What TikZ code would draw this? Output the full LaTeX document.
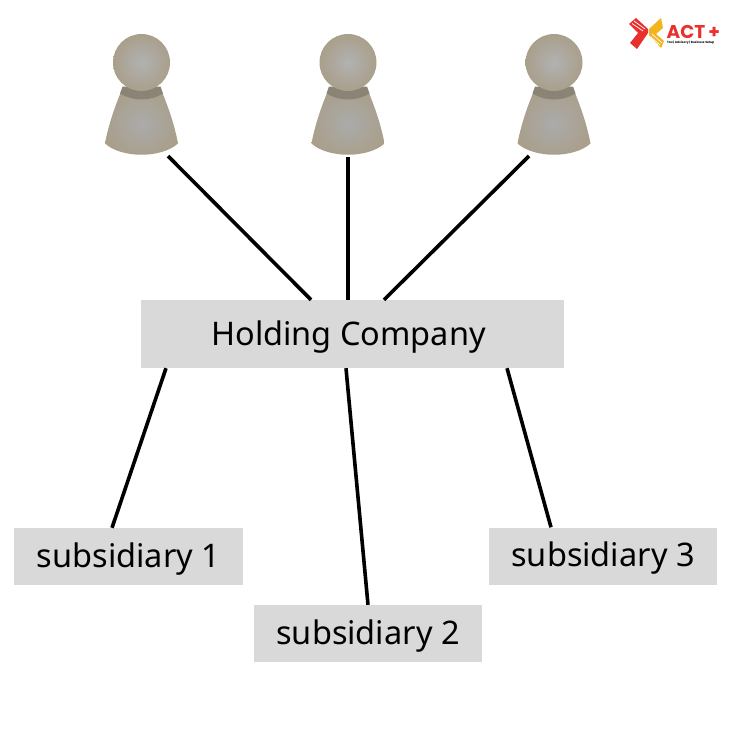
\documentclass[tikz,border=0pt]{standalone}
\usepackage{fontspec}
\setmainfont{Noto Sans}
\newfontfamily\logofont{Poppins}[UprightFont=* Bold]
\definecolor{boxgray}{HTML}{D9D9D9}
\definecolor{pawntan}{HTML}{A99F8B}
\definecolor{pawnmid}{HTML}{ABABAB}
\definecolor{pawncollar}{HTML}{8A8476}
\definecolor{actred}{HTML}{E8312F}
\definecolor{actyellow}{HTML}{F2B51D}
\tikzset{
    holdingbox/.style={fill=boxgray,minimum width=423pt,minimum height=68pt,text height=22pt,text depth=0pt,font=\fontsize{32.5}{36}\selectfont},
    subbox/.style={fill=boxgray,minimum width=228.5pt,minimum height=57pt,text height=21pt,text depth=0pt,font=\fontsize{32.5}{36}\selectfont},
    link/.style={line width=3.6pt},
    pawn/.pic={
        \path[inner color=pawnmid,outer color=pawntan] (-19,26) .. controls (-26,42) and (-33,62) .. (-36.5,81) .. controls (-20,96) and (20,96) .. (36.5,81) .. controls (33,62) and (26,42) .. (19,26) -- cycle;
        \path[fill=pawncollar] (-19,24) -- (19,24) -- (21.5,31) .. controls (8,39) and (-8,39) .. (-21.5,31) -- cycle;
        \path[inner color=pawnmid!92!white,outer color=pawntan] (0,0) circle (28.5);
    }
}
\begin{document}
\begin{tikzpicture}[x=1pt,y=-1pt]
    \useasboundingbox (0,0) rectangle (736,736);

    \pic at (141.5,62.5) {pawn};
    \pic at (348,62.5) {pawn};
    \pic at (554,62.5) {pawn};

    \coordinate (owner1) at (168,156);
    \coordinate (owner2) at (348,157);
    \coordinate (owner3) at (529,156);

    \node[holdingbox] (holding) at (352.5,334) {Holding Company\kern8pt};
    \node[subbox] (sub1) at (128.5,556.5) {subsidiary 1};
    \node[subbox] (sub2) at (368,633.5) {subsidiary 2};
    \node[subbox] (sub3) at (603,556) {subsidiary 3};

    \draw[link] (owner1) -- (holding.north -| 311,0);
    \draw[link] (owner2) -- (holding.north -| 348,0);
    \draw[link] (owner3) -- (holding.north -| 384,0);
    \draw[link] (holding.south -| 166,0) -- (sub1.north -| 112,0);
    \draw[link] (holding.south -| 346,0) -- (sub2.north -| 368,0);
    \draw[link] (holding.south -| 507,0) -- (sub3.north -| 551,0);

    % logo
    \fill[actred] (629,24) -- (636,18) -- (648,29) -- (648,33) -- (637,49) -- (630,43) -- (638,33) -- cycle;
    \fill[actyellow] (649,29) -- (661,18) -- (663,28) -- (656,34) -- (664,41) -- (661,48) -- (649,35) -- cycle;
    \draw[white,line width=.7pt] (632,23.5) -- (643,31) (634,21) -- (645,29);
    \draw[white,line width=.7pt] (652,34) -- (662,43) (651,37) -- (660,45);
    \node[inner sep=0pt,anchor=base west,text depth=0pt,text=actred,font=\logofont\fontsize{18.5}{19}\selectfont] (acttext) at (666.5,38) {ACT\,+};
    \node[inner sep=0pt,anchor=north west,font=\logofont\fontsize{3}{3.5}\selectfont] (acttag) at (667,41) {Tax | Advisory | Business Setup};
\end{tikzpicture}
\end{document}
